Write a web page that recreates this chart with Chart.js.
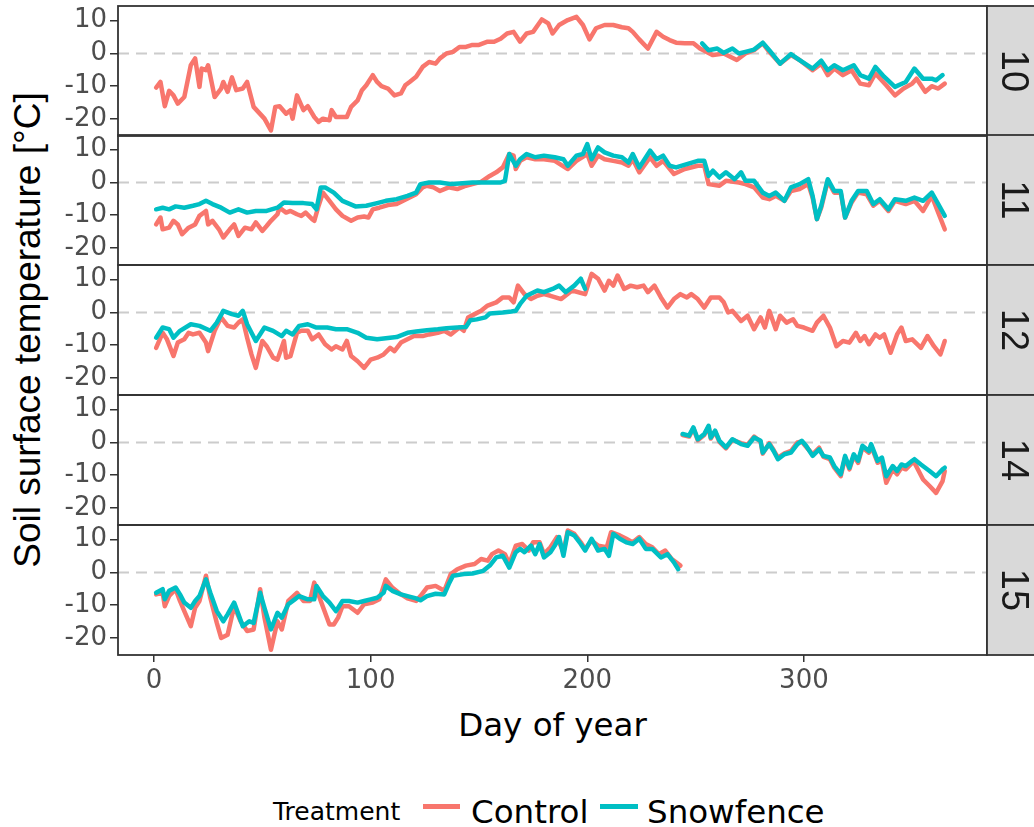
<!DOCTYPE html>
<html>
<head>
<meta charset="utf-8">
<script src="https://cdn.jsdelivr.net/npm/chart.js@4.4.1/dist/chart.umd.min.js"></script>
<style>
  body { margin: 0; background: #fff; }
  #wrap { position: relative; width: 1034px; height: 827px; overflow: hidden; background: #fff; }
  #wrap canvas { position: absolute; left: 0; }
  .lbl { position: absolute; white-space: nowrap; line-height: 1; color: #000; }
  .key { position: absolute; height: 5px; }
</style>
</head>
<body>
<div id="wrap">
  <div class="lbl" style="left:27.5px; top:330px; transform:translate(-50%,-50%) rotate(-90deg); font:37px 'Liberation Sans', Arial, sans-serif;">Soil surface temperature [°C]</div>
  <div class="lbl" style="left:552.5px; top:705.5px; transform:translateX(-50%); font:32.5px 'DejaVu Sans', sans-serif;">Day of year</div>
  <div class="lbl" style="left:273px; top:797px; font:25px 'DejaVu Sans', sans-serif;">Treatment</div>
  <div class="key" style="left:423px; top:804px; width:37px; background:#F8766D;"></div>
  <div class="lbl" style="left:471px; top:792.5px; font:32.5px 'DejaVu Sans', sans-serif;">Control</div>
  <div class="key" style="left:600px; top:804px; width:38px; background:#00BFC4;"></div>
  <div class="lbl" style="left:647px; top:792.5px; font:32.5px 'DejaVu Sans', sans-serif;">Snowfence</div>
</div>
<script>
// facet labels (plot number)
const panels = ['10', '11', '12', '14', '15'];
const xTicks = [0, 100, 200, 300];
const yTicks = [-20, -10, 0, 10];

// [day of year, temperature]
const control10 = [[1,-10.4],[3,-8.7],[5,-16.1],[7,-11.4],[9,-12.8],[11,-15.3],[14,-13.3],[17,-3.6],[19,-1.5],[21,-10.2],[22,-4.6],[24,-5.1],[25,-3.6],[28,-13.3],[31,-10.7],[32,-8.7],[34,-11.7],[36,-7.3],[38,-11.2],[41,-10.7],[43,-8.7],[46,-16.3],[51,-19.9],[54,-23.5],[56,-16.3],[58,-16.1],[61,-18.4],[63,-17.3],[64,-19.9],[66,-12.8],[69,-17.3],[71,-16.1],[74,-19.4],[76,-20.9],[78,-19.9],[81,-20.4],[82,-17.3],[84,-19.4],[89,-19.4],[91,-16.3],[94,-14.3],[96,-11.2],[98,-9.7],[101,-6.6],[103,-8.7],[105,-10],[108,-10.7],[111,-12.8],[114,-12.2],[116,-9.7],[118,-8.7],[121,-7.1],[124,-4.1],[127,-2.6],[130,-3.1],[132,-1.5],[135,0],[138,0.5],[141,2],[144,2],[147,2.6],[150,2.6],[154,3.6],[157,3.6],[160,4.5],[163,6.1],[166,6.6],[169,3.6],[172,6.1],[175,6.6],[179,10.4],[182,9.2],[184,6.1],[187,8.7],[191,10.2],[195,11.2],[198,8.7],[201,4.3],[204,7.7],[208,8.7],[212,8.7],[216,8],[219,7.7],[221,6.6],[224,4.3],[228,1.5],[232,6.6],[235,5.1],[238,4.1],[241,3.3],[245,3.1],[249,3.1],[252,1.5],[258,-0.5],[263,0],[269,-2],[273,0],[277,1],[281,3.1],[284,0.5],[289,-3.1],[294,-0.5],[298,-2],[304,-5.1],[308,-3.1],[311,-6.6],[314,-4.6],[318,-6.6],[322,-5.1],[326,-9.2],[330,-9.7],[333,-6.1],[338,-9.7],[342,-12.8],[346,-10.7],[350,-9.2],[352,-7.7],[356,-11.7],[359,-10],[362,-10.7],[365,-9.2]];
const snow10 = [[253,3.1],[256,1],[260,1.5],[263,0.2],[267,1.5],[270,0],[273,0.5],[277,1.2],[281,3.3],[284,1],[289,-3.1],[294,-0.2],[298,-2],[304,-4.6],[308,-2.2],[311,-5.1],[314,-3.6],[318,-5.1],[323,-3.6],[326,-6.6],[330,-7.7],[333,-4.1],[337,-7.1],[342,-10.2],[347,-8.7],[351,-4.6],[355,-7.7],[359,-7.7],[361,-8.2],[364,-6.6]];

const control11 = [[1,-12.8],[3,-10.7],[4,-14.3],[7,-13.8],[9,-11.7],[11,-12.8],[13,-15.8],[16,-13.8],[19,-12.8],[21,-10.2],[24,-8.7],[25,-12.8],[27,-11.7],[30,-14.3],[32,-16.8],[35,-14.3],[37,-12.8],[39,-16.3],[42,-13.8],[45,-14.3],[47,-12.2],[50,-14.8],[52,-13.3],[54,-11.7],[57,-9.7],[58,-7.7],[61,-9.2],[63,-8.7],[66,-9.7],[68,-10.2],[70,-9.2],[73,-11.2],[74,-11.7],[76,-7.1],[78,-3.1],[81,-5.6],[84,-8.2],[87,-10.2],[91,-11.7],[94,-10.7],[97,-10.4],[99,-10.7],[101,-8.2],[104,-7.7],[108,-6.9],[112,-6.6],[115,-5.6],[118,-4.6],[121,-3.6],[124,-1.5],[126,-1],[129,-1.5],[132,-2.6],[136,-1.5],[140,-2],[144,-1],[147,-0.5],[151,0.2],[155,2],[158,3.1],[161,4.6],[164,8.7],[166,8.2],[167,4.1],[169,6.6],[172,7.7],[176,7.1],[180,7.1],[185,6.6],[191,4.1],[195,6.6],[200,8.7],[202,5.1],[205,8.2],[208,7.1],[212,6.6],[216,6.1],[219,5.1],[221,7.1],[224,3.1],[229,7.7],[232,5.1],[235,6.6],[240,2.6],[245,4.1],[251,5.1],[254,5.1],[256,-0.5],[261,-1],[264,0.5],[270,0],[273,-0.5],[277,-1.5],[281,-4.6],[284,-5.1],[287,-4.1],[291,-5.6],[294,-2.6],[298,-2],[302,-0.5],[304,-4.6],[306,-11.2],[308,-7.6],[311,0.5],[314,-3.1],[317,-3.1],[319,-10.7],[322,-6.1],[325,-3.1],[329,-3.6],[332,-7.1],[335,-5.6],[339,-8.7],[342,-5.6],[347,-6.6],[351,-5.6],[355,-8.7],[359,-4.1],[362,-9.2],[365,-14.3]];
const snow11 = [[1,-8.2],[4,-7.7],[7,-8.2],[10,-7.3],[14,-7.7],[18,-7.1],[21,-6.6],[24,-5.6],[27,-6.6],[31,-7.7],[35,-9.2],[39,-8.2],[43,-9.2],[47,-8.7],[52,-8.7],[57,-7.7],[60,-6.1],[64,-6.3],[69,-6.3],[73,-6.6],[75,-8.2],[77,-1.5],[79,-1.5],[83,-3.1],[87,-5.6],[93,-7.3],[98,-7.1],[103,-6.3],[107,-5.6],[112,-5.1],[117,-4.1],[121,-3.1],[123,-0.5],[127,0],[132,0],[137,-0.5],[141,-0.3],[147,0],[154,0],[160,0],[162,0.5],[164,8.7],[167,5.1],[169,7.1],[172,8.7],[176,7.7],[180,8.2],[185,7.7],[189,7.1],[191,5.1],[195,8.2],[198,8.7],[200,11.7],[202,7.1],[205,10.7],[208,9.2],[212,8.2],[216,7.7],[219,6.1],[221,8.7],[224,4.6],[229,9.7],[232,7.1],[235,8.2],[238,5.1],[241,4.6],[246,5.6],[251,6.6],[254,6.6],[256,2],[258,3.6],[261,1.5],[264,3.1],[268,1],[271,3.1],[273,0.5],[277,0.5],[281,-3.1],[284,-4.1],[287,-3.1],[291,-5.6],[294,-1.5],[298,-0.5],[302,1],[304,-4.1],[306,-11.2],[308,-7.1],[311,1],[314,-2.6],[317,-2.6],[319,-10.7],[322,-5.6],[325,-2.6],[329,-2.6],[332,-6.6],[335,-5.1],[339,-8.2],[342,-5.1],[347,-5.6],[351,-4.6],[355,-5.6],[359,-3.1],[362,-6.6],[365,-10.2]];

const control12 = [[1,-10.8],[4,-6.2],[6,-8.2],[9,-13.3],[11,-9.2],[14,-8.2],[16,-6.2],[18,-6.7],[21,-6.2],[24,-9.2],[25,-11.8],[28,-5.6],[31,-1.5],[34,-4.1],[37,-4.6],[39,-3.1],[41,-2.1],[43,-7.7],[45,-12.8],[47,-16.9],[50,-8.7],[52,-10.3],[55,-13.8],[57,-14.4],[60,-8.7],[61,-13.8],[63,-13.3],[66,-6.2],[68,-5.6],[71,-5.6],[73,-8.2],[76,-6.7],[79,-9.7],[82,-11.3],[84,-10.3],[87,-11.3],[89,-8.7],[91,-13.3],[94,-14.9],[97,-16.9],[100,-14.4],[103,-13.8],[106,-12.8],[109,-10.8],[111,-11.8],[114,-9.2],[117,-8.2],[120,-7.2],[124,-7.2],[127,-6.7],[131,-6.2],[134,-5.6],[137,-6.7],[141,-4.6],[143,-5.6],[145,-1.5],[148,-0.5],[151,0.5],[154,2.1],[158,3.1],[161,4.6],[164,4.6],[166,3.1],[168,8.2],[171,5.6],[174,4.1],[177,5.1],[180,5.6],[183,5.1],[188,4.1],[193,6.7],[199,5.6],[202,11.8],[205,10.3],[208,6.7],[210,9.7],[212,8.2],[214,11.3],[217,7.2],[220,8.2],[223,7.7],[226,8.2],[228,6.2],[231,8.2],[234,4.6],[237,1.5],[240,4.1],[243,5.6],[246,4.6],[248,5.6],[251,4.1],[254,1.5],[257,4.6],[261,4.6],[263,3.1],[265,0],[267,0.5],[271,-2.6],[274,-1],[277,-5.1],[280,-1.5],[282,-4.6],[284,0.5],[287,-5.1],[289,-1],[292,-3.1],[295,-2.1],[297,-4.1],[300,-4.6],[304,-5.6],[306,-3.1],[309,-1],[312,-4.6],[315,-10.3],[318,-8.7],[321,-9.2],[324,-6.2],[326,-8.7],[328,-7.2],[330,-9.7],[333,-6.7],[335,-7.7],[337,-6.7],[340,-12.3],[343,-6.7],[345,-4.6],[347,-8.7],[350,-8.2],[354,-10.8],[357,-7.2],[360,-10.3],[363,-12.8],[365,-8.7]];
const snow12 = [[1,-7.7],[4,-4.6],[7,-5.1],[9,-7.7],[12,-5.6],[17,-3.6],[21,-4.1],[26,-5.6],[29,-3.1],[32,0.5],[36,-0.5],[39,-1],[41,0.5],[43,-3.6],[47,-8.7],[51,-4.6],[55,-5.6],[59,-7.2],[61,-5.6],[64,-6.7],[67,-4.1],[71,-3.6],[75,-4.6],[80,-4.6],[84,-5.1],[89,-5.1],[94,-6.2],[98,-7.7],[103,-8.2],[107,-7.9],[112,-7.5],[117,-6.2],[121,-5.8],[126,-5.4],[131,-5.1],[135,-4.8],[140,-4.6],[144,-4.4],[146,-2.4],[149,-2.1],[153,-1.5],[155,-0.3],[161,0],[165,0.3],[167,0.5],[169,2.6],[172,5.1],[177,6.7],[180,6.2],[184,7.2],[187,8.2],[190,6.2],[194,8.2],[197,10.3],[199,7.2]];

const control14 = [[244,2.3],[247,1.8],[249,4.3],[251,0.7],[254,2.3],[256,4.8],[257,1.2],[259,3.3],[261,0.2],[264,-1.8],[267,0.8],[271,-0.2],[274,-0.7],[277,1.8],[280,0.2],[281,-3.4],[284,-0.2],[286,-2.3],[288,-4.6],[291,-3.3],[294,-2.6],[297,0],[299,0.3],[301,-1.3],[304,-3.6],[307,-1.6],[309,-4.4],[312,-5.1],[314,-7.7],[317,-10.3],[319,-4.6],[321,-8.2],[323,-4.1],[325,-6.2],[327,-1.5],[330,-3.1],[331,-1],[334,-6.2],[336,-5.6],[338,-12.3],[341,-8.2],[343,-9.7],[345,-7.7],[347,-8.2],[350,-6.2],[351,-6.2],[355,-11.3],[358,-13.3],[361,-15.4],[364,-11.8],[365,-8.7]];
const snow14 = [[244,2.6],[247,2.1],[249,4.6],[251,1],[254,2.6],[256,5.1],[257,1.5],[259,3.6],[261,0.5],[264,-1.5],[267,1],[271,-0.5],[274,-1],[277,1.5],[280,0.5],[281,-3.1],[284,-0.5],[286,-2.6],[288,-5.1],[291,-3.6],[294,-3.1],[297,-0.5],[299,0.5],[301,-1],[304,-4.1],[307,-2.1],[309,-4.1],[312,-4.6],[314,-7.2],[317,-9.7],[319,-4.1],[321,-7.7],[323,-3.6],[325,-5.6],[327,-1],[330,-2.6],[331,-0.5],[334,-5.6],[336,-4.6],[338,-10.3],[341,-7.2],[343,-8.7],[345,-6.7],[347,-7.2],[350,-5.6],[351,-5.1],[354,-6.7],[358,-8.7],[361,-10.3],[364,-8.2],[365,-7.7]];

const control15 = [[1,-6.7],[4,-6.2],[5,-10.3],[7,-7.2],[10,-5.1],[12,-8.7],[14,-11.8],[17,-16.4],[19,-10.8],[21,-8.7],[24,-1],[26,-7.7],[29,-15.4],[31,-20],[34,-19],[37,-10.3],[40,-14.9],[43,-17.9],[46,-17.4],[49,-5.1],[51,-13.8],[54,-23.6],[57,-14.9],[59,-17.4],[62,-8.7],[66,-6.2],[69,-8.7],[72,-8.7],[74,-3.1],[77,-8.7],[81,-15.9],[83,-15.9],[85,-13.8],[87,-10.3],[90,-10.3],[94,-12.3],[97,-9.7],[101,-9.2],[104,-8.2],[107,-2.1],[110,-4.6],[114,-6.7],[117,-7.9],[121,-8.7],[123,-7.2],[126,-4.6],[130,-4.1],[134,-5.6],[137,-0.5],[140,1],[144,2.1],[148,2.6],[151,4.1],[154,3.6],[156,5.6],[159,6.7],[162,5.6],[164,2.6],[167,8.2],[170,8.7],[173,6.7],[175,9.2],[178,9.2],[180,5.6],[183,7.7],[186,10.8],[189,6.2],[191,12.8],[194,11.8],[197,9.2],[199,7.2],[202,9.7],[205,8.2],[209,7.7],[211,12.3],[215,11.3],[218,10.3],[221,9.2],[224,10.8],[227,8.7],[230,7.7],[233,5.6],[236,6.7],[239,4.1],[243,2.1]];
const snow15 = [[1,-6.2],[4,-5.1],[5,-8.2],[7,-5.6],[10,-4.6],[12,-6.7],[14,-9.2],[17,-10.8],[19,-8.7],[21,-7.2],[24,-2.1],[26,-6.2],[29,-11.8],[32,-14.9],[34,-12.8],[37,-9.2],[39,-12.8],[41,-16.4],[44,-14.9],[46,-15.4],[49,-6.2],[51,-10.8],[54,-17.4],[57,-12.3],[59,-13.8],[62,-9.7],[65,-8.2],[67,-7.2],[71,-8.2],[74,-8.2],[75,-4.1],[78,-7.2],[81,-9.2],[84,-11.8],[87,-8.7],[90,-8.7],[94,-9.2],[97,-8.7],[100,-8.2],[103,-7.7],[106,-6.2],[107,-4.1],[110,-5.6],[114,-6.7],[117,-7.2],[121,-7.9],[123,-8.5],[126,-7.2],[130,-6.5],[134,-6.7],[136,-3.6],[138,-1],[143,-0.5],[147,-0.3],[152,0.5],[155,2.1],[158,4.6],[161,5.1],[164,1.5],[167,6.2],[169,7.2],[171,6.2],[174,8.2],[176,5.6],[178,8.7],[180,4.6],[183,6.2],[185,8.2],[187,10.8],[189,5.1],[191,12.3],[194,11.3],[197,8.7],[199,6.7],[202,10.3],[205,6.7],[208,7.2],[210,5.1],[212,11.8],[215,10.3],[218,9.2],[221,8.7],[224,10.3],[227,7.2],[230,7.2],[234,4.6],[237,5.6],[240,3.1],[242,1]];

const controlSeries = [control10, control11, control12, control14, control15];
const snowSeries = [snow10, snow11, snow12, snow14, snow15];

// layout
const W = 1034, PANEL_H = 130, PAD = 20, X_AXIS_H = 45;
const panelTops = [6, 135, 265, 395, 525];
const X_MIN = -16.6, X_MAX = 384.5, Y_MIN = -25.2, Y_MAX = 14.5;
const RED = '#F8766D', TEAL = '#00BFC4';
const tickFont = { family: 'DejaVu Sans', size: 26 };

const toPoints = arr => arr.map(([x, y]) => ({ x, y }));

const facetPlugin = {
  id: 'facet',
  beforeDatasetsDraw(chart) {
    const { ctx, chartArea: a, scales } = chart;
    const y0 = scales.y.getPixelForValue(0);
    ctx.save();
    ctx.strokeStyle = '#CCCCCC';
    ctx.lineWidth = 2;
    ctx.setLineDash([11, 7]);
    ctx.beginPath();
    ctx.moveTo(a.left, y0);
    ctx.lineTo(a.right, y0);
    ctx.stroke();
    ctx.restore();
  },
  afterDatasetsDraw(chart, args, opts) {
    const { ctx, chartArea: a } = chart;
    ctx.save();
    ctx.strokeStyle = '#333333';
    ctx.lineWidth = 1.8;
    ctx.strokeRect(a.left, a.top, a.right - a.left, a.bottom - a.top);
    // strip on the right
    ctx.fillStyle = '#D9D9D9';
    ctx.fillRect(a.right, a.top, 60, a.bottom - a.top);
    ctx.strokeRect(a.right, a.top, 60, a.bottom - a.top);
    ctx.translate(a.right + 25, (a.top + a.bottom) / 2);
    ctx.rotate(Math.PI / 2);
    ctx.fillStyle = '#1A1A1A';
    ctx.font = "38px 'Liberation Sans', Arial, sans-serif";
    ctx.textAlign = 'center';
    ctx.textBaseline = 'middle';
    ctx.fillText(opts.label, 0, 0);
    ctx.restore();
  }
};

const wrap = document.getElementById('wrap');

panels.forEach((label, i) => {
  const isLast = i === panels.length - 1;
  const canvas = document.createElement('canvas');
  canvas.width = W;
  canvas.height = PAD + PANEL_H + (isLast ? X_AXIS_H : PAD);
  canvas.style.top = (panelTops[i] - PAD) + 'px';
  wrap.appendChild(canvas);

  new Chart(canvas, {
    type: 'line',
    data: {
      datasets: [
        { label: 'Control', data: toPoints(controlSeries[i]), borderColor: RED, order: 1 },
        { label: 'Snowfence', data: toPoints(snowSeries[i]), borderColor: TEAL, order: 0 }
      ]
    },
    options: {
      responsive: false,
      animation: false,
      devicePixelRatio: 1,
      layout: { padding: { top: PAD, bottom: isLast ? 0 : PAD, left: 0, right: W - 987 } },
      elements: {
        line: { borderWidth: 4.5, tension: 0, borderJoinStyle: 'round', borderCapStyle: 'round' },
        point: { radius: 0 }
      },
      scales: {
        x: {
          type: 'linear',
          min: X_MIN,
          max: X_MAX,
          display: isLast,
          afterBuildTicks: s => { s.ticks = xTicks.map(v => ({ value: v })); },
          afterFit: s => { if (isLast) s.height = X_AXIS_H; },
          ticks: { font: tickFont, color: '#4D4D4D', padding: 4, maxRotation: 0, autoSkip: false },
          grid: { drawOnChartArea: false, tickLength: 7, color: '#333333', lineWidth: 1.5 },
          border: { display: false }
        },
        y: {
          min: Y_MIN,
          max: Y_MAX,
          afterBuildTicks: s => { s.ticks = yTicks.map(v => ({ value: v })); },
          afterFit: s => { s.width = 118; },
          ticks: { font: tickFont, color: '#4D4D4D', padding: 3, autoSkip: false },
          grid: { drawOnChartArea: false, tickLength: 8, color: '#333333', lineWidth: 1.5 },
          border: { display: false }
        }
      },
      plugins: {
        legend: { display: false },
        tooltip: { enabled: false },
        facet: { label: label }
      }
    },
    plugins: [facetPlugin]
  });
});
</script>
</body>
</html>
